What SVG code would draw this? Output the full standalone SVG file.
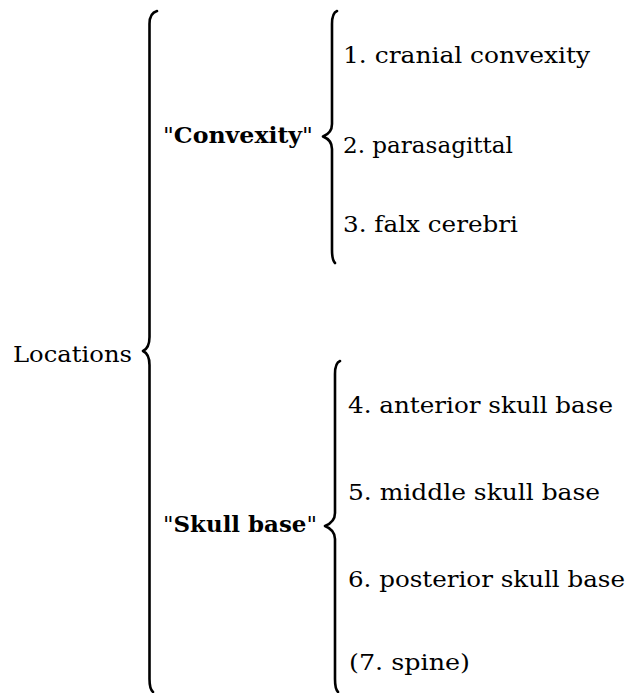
<svg xmlns="http://www.w3.org/2000/svg" width="632" height="693" viewBox="0 0 632 693">
<style>
.t{font-family:"DejaVu Serif","Liberation Serif",serif;font-size:23px;fill:#000}
.b{font-weight:bold}
.br{fill:none;stroke:#000;stroke-width:2.6;stroke-linecap:round;stroke-linejoin:round}
</style>
<rect width="632" height="693" fill="#fff"/>
<g id="connectors">
<path class="br" d="M157,11 Q149.5,13 149.5,24 L149.5,337 Q149.5,348 143,351 Q149.5,354 149.5,365 L149.5,679 Q149.5,689 153,692"/>
<path class="br" d="M337,11 Q332,13 332,24 L332,124 Q332,133 323,136.5 Q332,140 332,149 L332,250 Q332,260 335,263"/>
<path class="br" d="M340,361 Q335,363 335,374 L335,513 Q335,522 325,526 Q335,530 335,539 L335,679 Q335,689 338,692"/>
</g>
<g id="locations"><text class="t" x="13" y="362" textLength="119" lengthAdjust="spacingAndGlyphs">Locations</text></g>
<g id="convexity"><text class="t" x="163" y="143" textLength="150" lengthAdjust="spacingAndGlyphs">"<tspan class="b">Convexity</tspan>"</text></g>
<g id="skullbase"><text class="t" x="163" y="532" textLength="154" lengthAdjust="spacingAndGlyphs">"<tspan class="b">Skull base</tspan>"</text></g>
<g id="item1"><text class="t" x="343" y="63" textLength="247" lengthAdjust="spacingAndGlyphs">1. cranial convexity</text></g>
<g id="item2"><text class="t" x="343" y="153" textLength="170" lengthAdjust="spacingAndGlyphs">2. parasagittal</text></g>
<g id="item3"><text class="t" x="343" y="232" textLength="175" lengthAdjust="spacingAndGlyphs">3. falx cerebri</text></g>
<g id="item4"><text class="t" x="348" y="413" textLength="265" lengthAdjust="spacingAndGlyphs">4. anterior skull base</text></g>
<g id="item5"><text class="t" x="348" y="500" textLength="252" lengthAdjust="spacingAndGlyphs">5. middle skull base</text></g>
<g id="item6"><text class="t" x="348" y="587" textLength="277" lengthAdjust="spacingAndGlyphs">6. posterior skull base</text></g>
<g id="item7"><text class="t" x="349" y="670" textLength="121" lengthAdjust="spacingAndGlyphs">(7. spine)</text></g>
</svg>
